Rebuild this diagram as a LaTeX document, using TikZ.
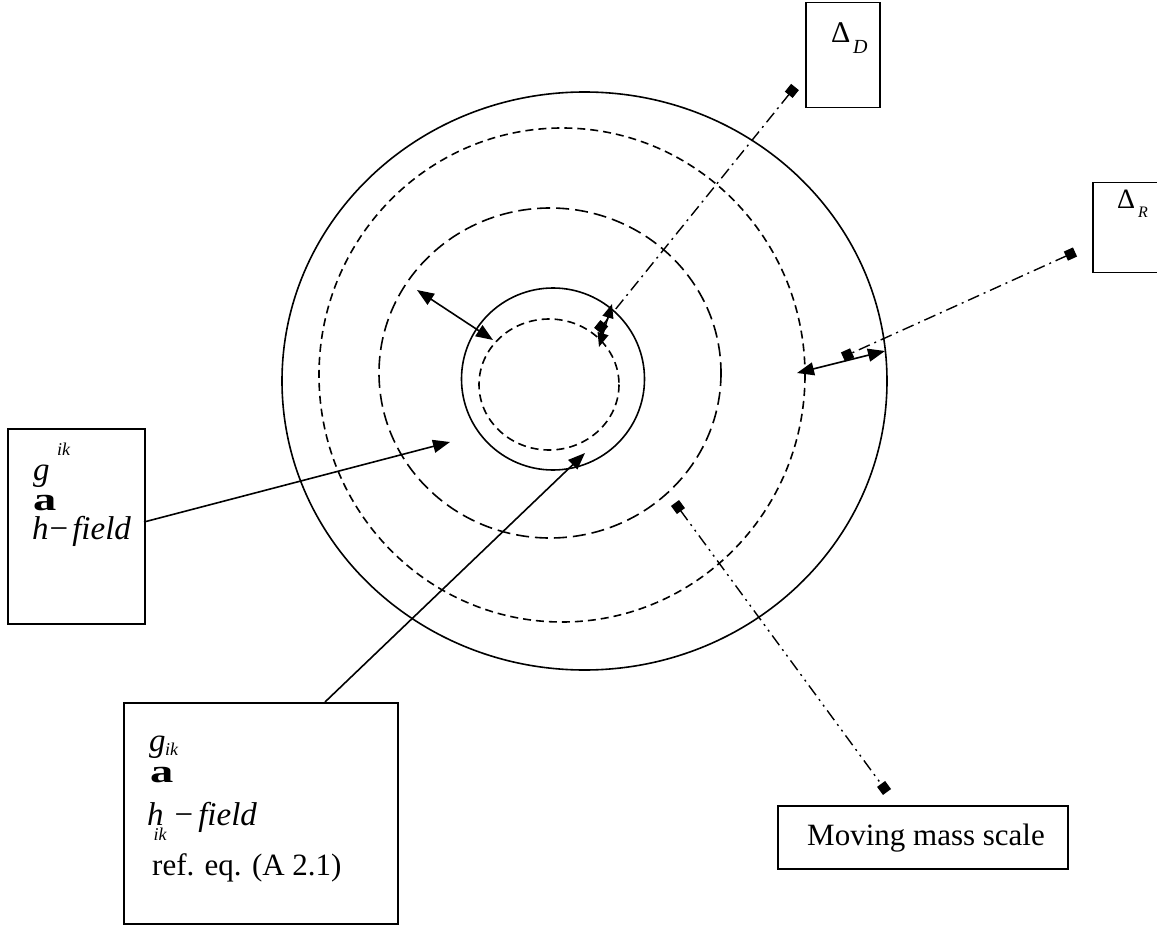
\documentclass[tikz,border=0pt]{standalone}
\usepackage{fontspec}
\usepackage{graphicx}
\setmainfont{Liberation Serif}
\usetikzlibrary{arrows.meta}
\begin{document}
\begin{tikzpicture}[x=1pt,y=-1pt,
  lw/.style={line width=1.6pt},
  box/.style={draw,line width=1.5pt,inner sep=0pt,anchor=north west},
  txt/.style={anchor=base west,inner sep=0pt,font=\fontsize{31}{37}\selectfont},
  mth/.style={anchor=base west,inner sep=0pt,font=\fontsize{33}{38}\selectfont\itshape},
  sub/.style={anchor=base west,inner sep=0pt,font=\fontsize{18}{20}\selectfont\itshape},
  arr/.style={line width=1.6pt,-{Triangle[length=17pt,width=13pt]}},
  darr/.style={line width=1.6pt,{Triangle[length=17pt,width=13pt]}-{Triangle[length=17pt,width=13pt]}},
  sdarr/.style={line width=1.6pt,{Triangle[length=14pt,width=11pt]}-{Triangle[length=14pt,width=11pt]}},
  mk/.style={line width=1.4pt,{Square[length=10pt,width=10pt]}-{Square[length=10pt,width=10pt]}},
  dashdot/.style={dash pattern=on 12pt off 5pt on 2pt off 5pt},
  dashdotdot/.style={dash pattern=on 12pt off 5pt on 2pt off 5pt on 2pt off 5pt},
  shortdash/.style={dash pattern=on 8pt off 5pt},
  longdash/.style={dash pattern=on 13pt off 6pt},
]
\useasboundingbox (0,0) rectangle (1157,928);

% circles
\draw[lw] (584.5,381) ellipse [x radius=302.5, y radius=289];
\draw[lw,shortdash] (562,375) ellipse [x radius=243, y radius=247];
\draw[lw,longdash] (550,373) ellipse [x radius=171, y radius=165];
\draw[lw] (553,379) ellipse [x radius=91.5, y radius=91];
\draw[lw,shortdash] (549,384.5) ellipse [x radius=70, y radius=65.5];

% boxes
\node[box,minimum width=74pt,minimum height=105pt] (bD) at (805,2) {};
\node[box,minimum width=70pt,minimum height=90pt] (bR) at (1092,182) {};
\node[box,minimum width=137pt,minimum height=195pt] (bup) at (7,428) {};
\node[box,minimum width=274pt,minimum height=221pt] (blo) at (123,702) {};
\node[box,minimum width=290pt,minimum height=63pt] (bmm) at (777,805) {};

% texts
\node[txt,font=\fontsize{30}{34}\selectfont] (tD) at (831,43) {Δ};
\node[sub,font=\fontsize{20}{22}\selectfont\itshape] (tDs) at (853,54) {D};
\node[txt,font=\fontsize{28}{32}\selectfont] (tR) at (1117,209) {Δ};
\node[sub,font=\fontsize{16}{18}\selectfont\itshape] (tRs) at (1138,218) {R};

\node[mth] (ug) at (33,480) {g};
\node[sub] (uik) at (57,455) {ik};
\node[txt] (ua) at (33,510) {\scalebox{1.5}[1.05]{\bfseries a}};
\node[mth] (uh) at (32,539) {h\kern1pt\upshape−\kern4pt\itshape field};

\node[mth] (lg) at (149,751) {g};
\node[sub] (lik) at (165,755) {ik};
\node[txt] (la) at (150,782) {\scalebox{1.5}[1.05]{\bfseries a}};
\node[mth] (lh) at (147,825) {h\kern-10pt\raisebox{-15pt}{\fontsize{18}{20}\selectfont ik}\kern8pt\upshape−\kern5pt\itshape field};
\node[txt] (lref) at (152,875) {ref. eq. (A 2.1)};

\node[txt] (tmm) at (807,845) {Moving mass scale};

% coordinates
\coordinate (upS) at (144,522);
\coordinate (upE) at (450,442);
\coordinate (loS) at (325,702);
\coordinate (loE) at (585,453);
\coordinate (a1) at (417,290);
\coordinate (a2) at (493,340);
\coordinate (r1) at (797,373);
\coordinate (r2) at (885,351);
\coordinate (s1) at (612,304);
\coordinate (s2) at (599,347);
\coordinate (dS) at (795,87);
\coordinate (dE) at (598,331);
\coordinate (rS) at (1075,252);
\coordinate (rE) at (843,357);
\coordinate (mS) at (675,503);
\coordinate (mE) at (887,792);

% connectors
\draw[arr] (upS) -- (upE);
\draw[arr] (loS) -- (loE);
\draw[darr] (a1) -- (a2);
\draw[darr] (r1) -- (r2);
\draw[sdarr] (s2) -- (s1);
\draw[mk,dashdot] (dS) -- (dE);
\draw[mk,dashdot] (rS) -- (rE);
\draw[mk,dashdotdot] (mS) -- (mE);
\end{tikzpicture}
\end{document}
